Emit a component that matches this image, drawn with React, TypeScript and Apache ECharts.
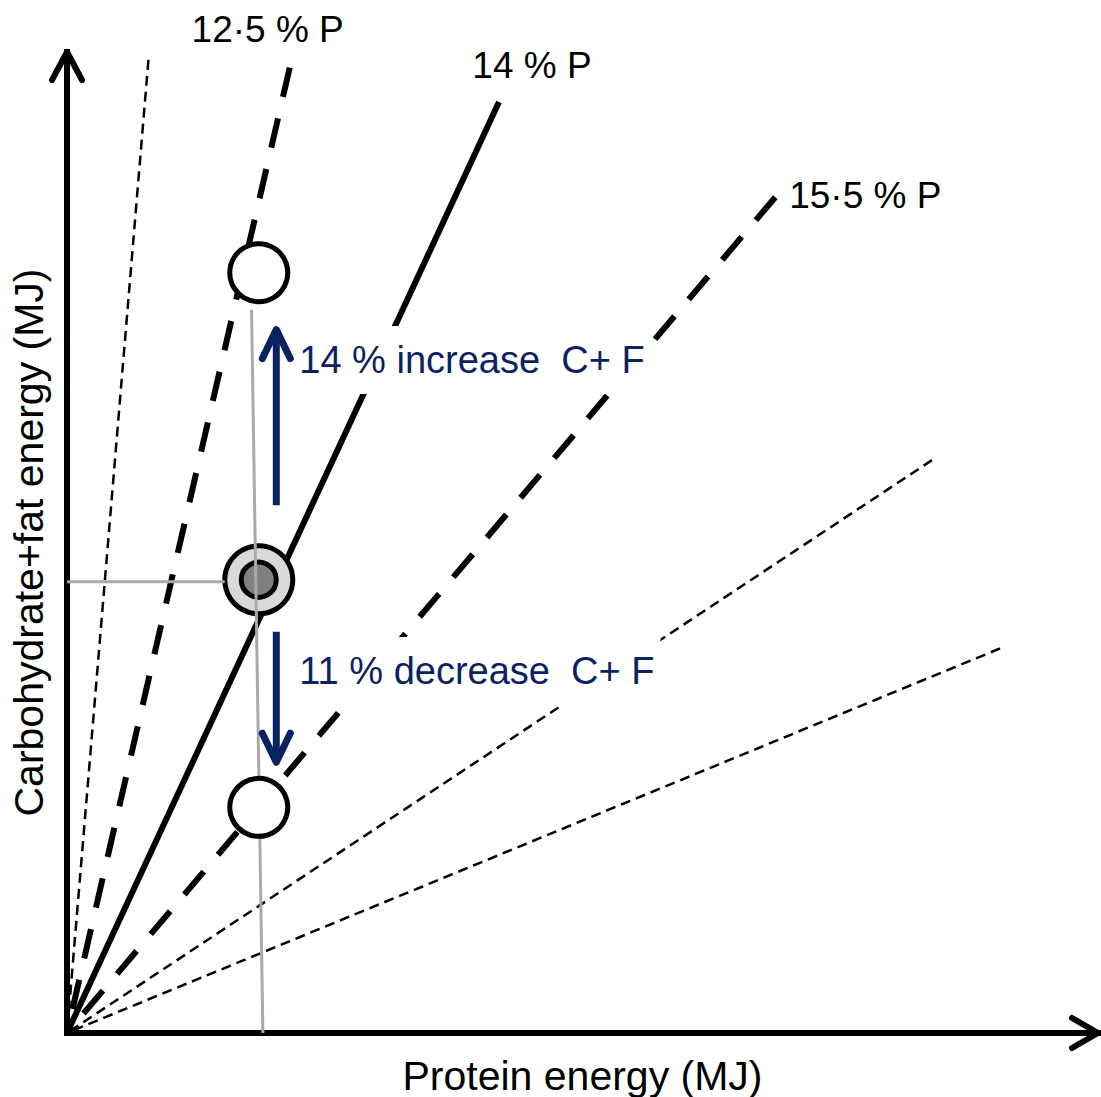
import React, { useEffect, useRef } from 'react';
import * as echarts from 'echarts';

const FONT = '"Liberation Sans", Arial, Helvetica, sans-serif';
const NAVY = '#0b2262';

const X_MAX = 10;
const Y_MAX = 10;

// rays from the origin: end points (protein energy, carbohydrate+fat energy)
const rayEndX = [0.79, 2.16, 4.19, 6.87, 8.39, 9.05];
const rayEndY = [9.92, 9.84, 9.49, 8.52, 5.84, 3.92];
const rayLabels = ['', '12·5 % P', '14 % P', '15·5 % P', '', ''];
const rayKinds = ['thin', 'thick', 'solid', 'thick', 'thin', 'thin'];

// intake points
const targetX = [1.86];
const targetY = [4.62];
const openX = [1.86, 1.86];
const openY = [7.75, 2.3];

// grey reference lines
const refVertX = [1.79, 1.9];
const refVertY = [7.37, 0];
const refHorzX = [0, 1.53];
const refHorzY = [4.6, 4.6];

// change arrows
const arrowX = [2.03, 2.03];
const arrowFromY = [5.38, 4.09];
const arrowToY = [7.17, 2.76];
const arrowTextY = [6.86, 3.69];
const arrowTexts = ['14 % increase  C+ F', '11 % decrease  C+ F'];

// styles (not data)
const rayStyles: Record<string, any> = {
  thin: { width: 2.5, type: [10, 6] },
  thick: { width: 6, type: [30, 22] },
  solid: { width: 6, type: 'solid' },
};
const labelOffsets: number[][] = [
  [0, 0],
  [-22, -38],
  [33, -37],
  [90, -2],
  [0, 0],
  [0, 0],
];

function buildOption() {
  const raySeries = rayEndX.map((x, i) => ({
    type: 'line',
    name: 'ray' + i,
    data: [
      [x, rayEndY[i]],
      [0, 0],
    ],
    showSymbol: false,
    symbol: 'none',
    silent: true,
    z: 2,
    lineStyle: {
      color: '#000',
      width: rayStyles[rayKinds[i]].width,
      type: rayStyles[rayKinds[i]].type,
      cap: 'butt',
    },
  }));

  const labelData = rayEndX
    .map((x, i) => [x, rayEndY[i], i])
    .filter((d) => rayLabels[d[2] as number] !== '');

  return {
    animation: false,
    backgroundColor: '#fff',
    grid: {
      left: 67,
      right: 3,
      top: 52,
      bottom: 64,
      containLabel: false,
      outerBoundsMode: 'none',
    },
    xAxis: {
      type: 'value',
      min: 0,
      max: X_MAX,
      name: 'Protein energy (MJ)',
      nameLocation: 'middle',
      nameGap: 22,
      nameTextStyle: { fontSize: 41, color: '#000', fontFamily: FONT },
      axisLine: { show: true, lineStyle: { color: '#000', width: 6, cap: 'square' } },
      axisTick: { show: false },
      axisLabel: { show: false },
      splitLine: { show: false },
    },
    yAxis: {
      type: 'value',
      min: 0,
      max: Y_MAX,
      name: 'Carbohydrate+fat energy (MJ)',
      nameLocation: 'middle',
      nameGap: 18,
      nameTextStyle: { fontSize: 41, color: '#000', fontFamily: FONT },
      axisLine: { show: true, lineStyle: { color: '#000', width: 6, cap: 'square' } },
      axisTick: { show: false },
      axisLabel: { show: false },
      splitLine: { show: false },
    },
    series: [
      ...raySeries,
      {
        type: 'custom',
        name: 'rayLabels',
        silent: true,
        clip: false,
        z: 7,
        data: labelData,
        renderItem: (params: any, api: any) => {
          const idx = api.value(2);
          const p = api.coord([api.value(0), api.value(1)]);
          const off = labelOffsets[idx];
          return {
            type: 'text',
            x: p[0] + off[0],
            y: p[1] + off[1],
            style: {
              text: rayLabels[idx],
              fill: '#000',
              fontSize: 37,
              fontFamily: FONT,
              align: 'center',
              verticalAlign: 'middle',
            },
          };
        },
      },
      {
        type: 'scatter',
        name: 'targetOuter',
        silent: true,
        z: 3,
        symbol: 'circle',
        symbolSize: 68,
        data: targetX.map((x, i) => [x, targetY[i]]),
        itemStyle: { color: '#d9d9d9', borderColor: '#000', borderWidth: 5, opacity: 1 },
      },
      {
        type: 'scatter',
        name: 'targetInner',
        silent: true,
        z: 3,
        symbol: 'circle',
        symbolSize: 35,
        data: targetX.map((x, i) => [x, targetY[i]]),
        itemStyle: { color: '#808080', borderColor: '#000', borderWidth: 5, opacity: 1 },
      },
      {
        type: 'line',
        name: 'refVert',
        silent: true,
        z: 4,
        symbol: 'none',
        showSymbol: false,
        data: refVertX.map((x, i) => [x, refVertY[i]]),
        lineStyle: { color: '#a9a9a9', width: 3 },
      },
      {
        type: 'line',
        name: 'refHorz',
        silent: true,
        z: 4,
        symbol: 'none',
        showSymbol: false,
        data: refHorzX.map((x, i) => [x, refHorzY[i]]),
        lineStyle: { color: '#a9a9a9', width: 3 },
      },
      {
        type: 'scatter',
        name: 'open',
        silent: true,
        z: 5,
        symbol: 'circle',
        symbolSize: 58,
        data: openX.map((x, i) => [x, openY[i]]),
        itemStyle: { color: '#fff', borderColor: '#000', borderWidth: 5, opacity: 1 },
      },
      {
        type: 'custom',
        name: 'arrows',
        silent: true,
        clip: false,
        z: 6,
        data: arrowX.map((x, i) => [x, arrowFromY[i], arrowToY[i], arrowTextY[i]]),
        encode: { x: 0, y: [1, 2] },
        renderItem: (params: any, api: any) => {
          const i = params.dataIndex;
          const x = api.value(0);
          const a = api.coord([x, api.value(1)]);
          const b = api.coord([x, api.value(2)]);
          const t = api.coord([x, api.value(3)]);
          const dir = b[1] < a[1] ? -1 : 1;
          const head = 29;
          const half = 14;
          return {
            type: 'group',
            children: [
              {
                type: 'line',
                shape: { x1: a[0], y1: a[1], x2: b[0], y2: b[1] - dir * 3 },
                style: { stroke: NAVY, lineWidth: 7, lineCap: 'butt' },
              },
              {
                type: 'polyline',
                shape: {
                  points: [
                    [b[0] - half, b[1] - dir * head],
                    [b[0], b[1]],
                    [b[0] + half, b[1] - dir * head],
                  ],
                },
                style: { stroke: NAVY, fill: null, lineWidth: 7, lineCap: 'round', lineJoin: 'round' },
              },
              {
                type: 'text',
                x: t[0] + 19,
                y: t[1],
                style: {
                  text: arrowTexts[i],
                  fill: NAVY,
                  fontSize: 38,
                  fontFamily: FONT,
                  align: 'left',
                  verticalAlign: 'middle',
                  backgroundColor: '#fff',
                  padding: [15, 6, 15, 4],
                },
              },
            ],
          };
        },
      },
      {
        type: 'custom',
        name: 'axisArrows',
        silent: true,
        clip: false,
        z: 8,
        data: [
          [X_MAX, 0, 0],
          [0, Y_MAX, 1],
        ],
        renderItem: (params: any, api: any) => {
          const p = api.coord([api.value(0), api.value(1)]);
          const kind = api.value(2);
          const pts =
            kind === 0
              ? [
                  [p[0] - 26, p[1] - 15],
                  [p[0], p[1]],
                  [p[0] - 26, p[1] + 15],
                ]
              : [
                  [p[0] - 15, p[1] + 28],
                  [p[0], p[1]],
                  [p[0] + 15, p[1] + 28],
                ];
          return {
            type: 'polyline',
            shape: { points: pts },
            style: { stroke: '#000', fill: null, lineWidth: 6, lineCap: 'round', lineJoin: 'round' },
          };
        },
      },
    ],
  };
}

export default function App() {
  const ref = useRef<HTMLDivElement>(null);
  useEffect(() => {
    if (!ref.current) return;
    const chart = echarts.init(ref.current, null, { renderer: 'svg' });
    chart.setOption(buildOption() as any);
    return () => chart.dispose();
  }, []);
  return (
    <div
      ref={ref}
      style={{ position: 'fixed', left: 0, top: 0, width: 1101, height: 1097, background: '#fff' }}
    />
  );
}
